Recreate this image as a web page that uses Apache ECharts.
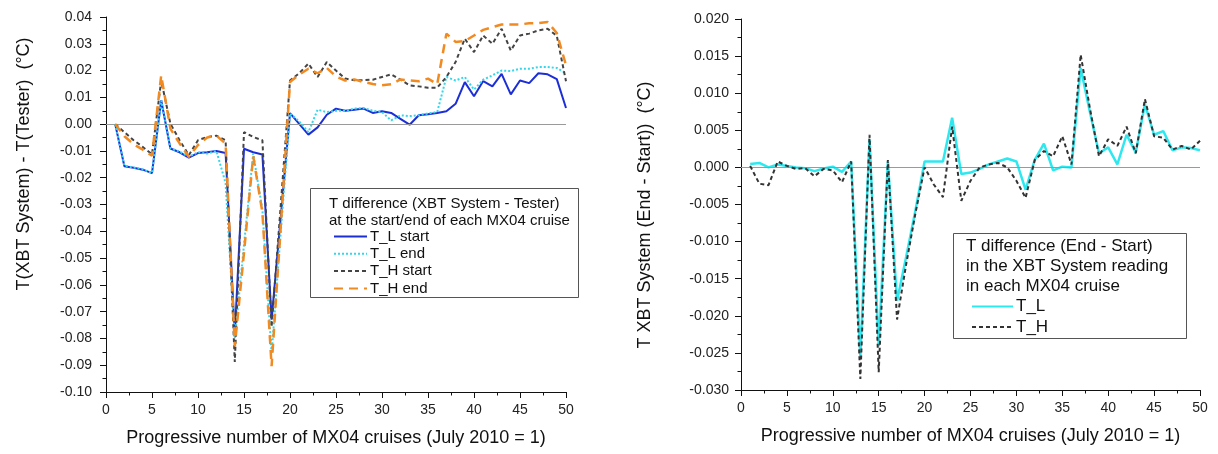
<!DOCTYPE html>
<html>
<head>
<meta charset="utf-8">
<script src="https://cdn.jsdelivr.net/npm/echarts@6/dist/echarts.min.js"></script>
<style>
  html, body { margin: 0; padding: 0; background: #fff; }
  #chart { width: 1218px; height: 454px; }
</style>
</head>
<body>
<div id="chart"></div>
<script>
// Cruise numbers (July 2010 = 1)
const cruises = [1,2,3,4,5,6,7,8,9,10,11,12,13,14,15,16,17,18,19,20,21,22,23,24,25,26,27,28,29,30,31,32,33,34,35,36,37,38,39,40,41,42,43,44,45,46,47,48,49,50];

// T(XBT System) - T(Tester), °C, at the start / end of each cruise
const tlStart = [0.000,-0.0157,-0.0163,-0.0170,-0.0183,0.0089,-0.0091,-0.0105,-0.0125,-0.0108,-0.0105,-0.0100,-0.0108,-0.0785,-0.0092,-0.0105,-0.0113,-0.0730,-0.0345,0.0041,0.0001,-0.0039,-0.0012,0.0035,0.0058,0.0050,0.0054,0.0058,0.0042,0.0048,0.0042,0.0020,-0.0002,0.0033,0.0037,0.0042,0.0048,0.0076,0.0157,0.0104,0.0161,0.0141,0.0188,0.0111,0.0163,0.0153,0.0190,0.0186,0.0168,0.0060];
const tlEnd   = [0.000,-0.0155,-0.0162,-0.0169,-0.0182,0.0089,-0.0090,-0.0103,-0.0122,-0.0105,-0.0110,-0.0100,-0.0220,-0.0800,-0.0450,-0.0110,-0.0320,-0.0857,-0.0400,0.0040,0.0010,-0.0030,0.0054,0.0045,0.0050,0.0050,0.0058,0.0060,0.0050,0.0045,0.0014,0.0033,0.0030,0.0033,0.0040,0.0045,0.0176,0.0163,0.0176,0.0129,0.0166,0.0182,0.0200,0.0198,0.0207,0.0207,0.0213,0.0213,0.0210,0.0190];
const thStart = [0.000,-0.0030,-0.0060,-0.0085,-0.0113,0.0163,0.0002,-0.0060,-0.0116,-0.0060,-0.0048,-0.0043,-0.0060,-0.0888,-0.0030,-0.0048,-0.0060,-0.0757,-0.0300,0.0163,0.0190,0.0226,0.0176,0.0232,0.0200,0.0170,0.0164,0.0164,0.0166,0.0176,0.0186,0.0166,0.0145,0.0141,0.0136,0.0136,0.0176,0.0232,0.0319,0.0269,0.0331,0.0300,0.0356,0.0275,0.0331,0.0338,0.0350,0.0356,0.0330,0.0160];
const thEnd   = [0.000,-0.0045,-0.0075,-0.0095,-0.0118,0.0182,-0.0017,-0.0072,-0.0122,-0.0078,-0.0050,-0.0043,-0.0072,-0.0830,-0.0480,-0.0120,-0.0330,-0.0904,-0.0380,0.0157,0.0185,0.0207,0.0190,0.0210,0.0178,0.0163,0.0167,0.0157,0.0150,0.0145,0.0149,0.0167,0.0163,0.0160,0.0170,0.0149,0.0338,0.0307,0.0310,0.0331,0.0352,0.0362,0.0372,0.0372,0.0372,0.0377,0.0377,0.0381,0.0340,0.0220];

// End - Start difference of the XBT System reading, °C
const diffL = [0.00045,0.0006,0.0000,0.0004,0.0002,0.0000,-0.0001,-0.0005,-0.00015,0.0001,-0.0006,0.0008,-0.0255,0.0038,-0.0241,0.0008,-0.0180,-0.0120,-0.0058,0.0008,0.0008,0.0008,0.0067,-0.0009,-0.0007,-0.0002,0.0004,0.0008,0.0012,0.0008,-0.0030,0.0010,0.0032,-0.0004,0.0001,0.0000,0.0134,0.0075,0.0019,0.0027,0.0004,0.0044,0.0020,0.0085,0.0044,0.0049,0.0023,0.0027,0.0026,0.0023];
const diffH = [0.0002,-0.0022,-0.0024,0.0008,0.0002,-0.0002,-0.0001,-0.0012,-0.0002,-0.0004,-0.0020,0.0008,-0.0285,0.0044,-0.0276,0.0010,-0.0205,-0.0130,-0.0062,0.0000,-0.0023,-0.0040,0.0055,-0.0045,-0.0018,0.0000,0.0004,0.0006,0.0000,-0.0018,-0.0041,0.0010,0.0022,0.0015,0.0042,0.0004,0.0152,0.0080,0.0015,0.0038,0.0029,0.0055,0.0019,0.0092,0.0042,0.0040,0.0024,0.0029,0.0024,0.0036];

// Axis ranges and text
const xRange = { min: 0, max: 50, interval: 5 };
const leftY = { min: -0.10, max: 0.04, interval: 0.01, digits: 2 };
const rightY = { min: -0.030, max: 0.020, interval: 0.005, digits: 3 };
const xName = 'Progressive number of MX04 cruises (July 2010 = 1)';
const leftYName = 'T(XBT System) - T(Tester)  (\u00B0C)';
const rightYName = 'T XBT System (End - Start))  (\u00B0C)';
const leftHeader = ['T difference (XBT System - Tester)', 'at the start/end of each MX04 cruise'];
const rightHeader = ['T difference (End - Start)', 'in the XBT System reading', 'in each MX04 cruise'];

const FONT = 'Liberation Sans, Arial, sans-serif';
const pairs = ys => cruises.map((c, i) => [c, ys[i]]);

function xAxis(gridIndex) {
  return {
    type: 'value', gridIndex, min: xRange.min, max: xRange.max, interval: xRange.interval,
    name: xName, nameLocation: 'middle', nameGap: 37,
    nameTextStyle: { fontFamily: FONT, fontSize: 18, color: '#111' },
    axisLine: { show: true, onZero: false, lineStyle: { color: '#111', width: 1 } },
    axisTick: { show: true, length: 6, lineStyle: { color: '#111' } },
    minorTick: { show: true, splitNumber: 2, length: 3.5, lineStyle: { color: '#111' } },
    axisLabel: { fontFamily: FONT, fontSize: 14, color: '#222', margin: 11 },
    splitLine: { show: false }
  };
}
function yAxis(gridIndex, r, margin) {
  return {
    type: 'value', gridIndex, min: r.min, max: r.max, interval: r.interval,
    axisLine: { show: true, lineStyle: { color: '#111', width: 1 } },
    axisTick: { show: true, length: 6, lineStyle: { color: '#111' } },
    minorTick: { show: true, splitNumber: 2, length: 3.5, lineStyle: { color: '#111' } },
    axisLabel: {
      fontFamily: FONT, fontSize: 14, color: '#222', margin,
      formatter: v => (Math.abs(v) < 1e-9 ? 0 : v).toFixed(r.digits)
    },
    splitLine: { show: false }
  };
}
const zeroLine = {
  silent: true, symbol: 'none', label: { show: false },
  lineStyle: { color: '#9a9a9a', width: 1, type: 'solid' },
  data: [{ yAxis: 0 }]
};
function line(name, ys, xi, color, width, type, extra) {
  return Object.assign({
    name, type: 'line', xAxisIndex: xi, yAxisIndex: xi, data: pairs(ys),
    symbol: 'none', animation: false, z: 3,
    lineStyle: { color, width, type },
    itemStyle: { color }
  }, extra || {});
}

const chart = echarts.init(document.getElementById('chart'), null, { renderer: 'canvas' });

const headerText = (lines, x, y0, step, size) => lines.map((t, i) => ({
  type: 'text', left: x, top: y0 + i * step, z: 20,
  style: { text: t, fontFamily: FONT, fontSize: size, fill: '#111' }
}));

// Legend entries show the line sample only, without a marker
const legendBase = {
  orient: 'vertical', z: 21,
  itemStyle: { opacity: 0, borderWidth: 0 },
  lineStyle: { inactiveColor: '#ccc' }
};

chart.setOption({
  backgroundColor: '#fff',
  animation: false,
  grid: [
    { left: 106, right: 652, top: 17, bottom: 62 },
    { left: 741, right: 18, top: 19, bottom: 64 }
  ],
  xAxis: [xAxis(0), xAxis(1)],
  yAxis: [yAxis(0, leftY, 14), yAxis(1, rightY, 12)],
  legend: [
    Object.assign({}, legendBase, {
      data: ['T_L start', 'T_L end', 'T_H start', 'T_H end'],
      left: 328, top: 224, itemWidth: 33, itemHeight: 15, itemGap: 2.3,
      textStyle: { fontFamily: FONT, fontSize: 15, color: '#111', padding: [0, 0, 0, -2] }
    }),
    Object.assign({}, legendBase, {
      data: ['T_L', 'T_H'],
      left: 966, top: 293, itemWidth: 41, itemHeight: 17, itemGap: 3.5,
      textStyle: { fontFamily: FONT, fontSize: 17, color: '#111', padding: [0, 0, 0, -2] }
    })
  ],
  graphic: [
    { type: 'rect', left: 310, top: 188, z: 19, shape: { width: 268, height: 109 },
      style: { fill: '#fff', stroke: '#555', lineWidth: 1 } },
    { type: 'rect', left: 953, top: 233, z: 19, shape: { width: 233, height: 105 },
      style: { fill: '#fff', stroke: '#555', lineWidth: 1 } },
    ...headerText(leftHeader, 329, 196, 17.5, 15),
    ...headerText(rightHeader, 966, 238, 20, 17),
    { type: 'text', x: 24, y: 164, rotation: Math.PI / 2, z: 20,
      style: { text: leftYName, fontFamily: FONT, fontSize: 18, fill: '#111', align: 'center', verticalAlign: 'middle' } },
    { type: 'text', x: 645, y: 215, rotation: Math.PI / 2, z: 20,
      style: { text: rightYName, fontFamily: FONT, fontSize: 18, fill: '#111', align: 'center', verticalAlign: 'middle' } }
  ],
  series: [
    line('T_L start', tlStart, 0, '#1c2fd6', 2, 'solid', { markLine: zeroLine, z: 4 }),
    line('T_L end', tlEnd, 0, '#33d6ea', 2, [2, 2], { z: 5 }),
    line('T_H start', thStart, 0, '#444444', 2, [4, 3], { z: 6 }),
    line('T_H end', thEnd, 0, '#f28a22', 2.5, [9, 6], { z: 7 }),
    line('T_L', diffL, 1, '#2ee8f0', 2.5, 'solid', { markLine: zeroLine, z: 4 }),
    line('T_H', diffH, 1, '#333333', 2, [4, 3], { z: 5 })
  ]
});
</script>
</body>
</html>
